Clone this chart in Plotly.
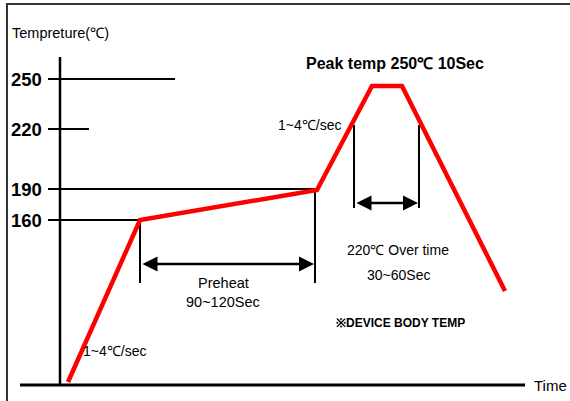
import plotly.graph_objects as go

# ---- data (schematic units: time offset from axis, level above baseline) ----
temp_labels = ["250", "220", "190", "160"]
temp_levels = [306, 256, 196, 165]
guide_ends = [115, 29, 257, 80]          # how far each temperature guide runs along time

profile_time = [8, 80, 257, 312, 342, 445]
profile_level = [3, 165, 195, 299, 299, 94]

preheat_time = [80, 255]
preheat_top = [165, 195]
preheat_bottom = 102
preheat_arrow_level = 121

overtime_time = [294, 359]
overtime_top = 260
overtime_bottom = 177
overtime_arrow_level = 182

axis_time = [-40, 465]
axis_level_top = 328

FONT = "Liberation Sans, Arial, sans-serif"

fig = go.Figure()

# temperature guide lines
for lvl, end in zip(temp_levels, guide_ends):
    fig.add_trace(go.Scatter(x=[-12, end], y=[lvl, lvl], mode="lines",
                             line=dict(color="black", width=2), hoverinfo="skip"))

# axes lines
fig.add_trace(go.Scatter(x=[0, 0], y=[0, axis_level_top], mode="lines",
                         line=dict(color="black", width=2.5), hoverinfo="skip"))
fig.add_trace(go.Scatter(x=axis_time, y=[0, 0], mode="lines",
                         line=dict(color="black", width=3), hoverinfo="skip"))

# preheat markers
for t, top in zip(preheat_time, preheat_top):
    fig.add_trace(go.Scatter(x=[t, t], y=[top, preheat_bottom], mode="lines",
                             line=dict(color="black", width=2), hoverinfo="skip"))
# over time markers
for t in overtime_time:
    fig.add_trace(go.Scatter(x=[t, t], y=[overtime_top, overtime_bottom], mode="lines",
                             line=dict(color="black", width=2), hoverinfo="skip"))

# profile
fig.add_trace(go.Scatter(x=profile_time, y=profile_level, mode="lines",
                         line=dict(color="#FF0000", width=4.5), hoverinfo="skip"))

ann = []
# double arrows
ann.append(dict(x=preheat_time[1], y=preheat_arrow_level, ax=preheat_time[0], ay=preheat_arrow_level,
                xref="x", yref="y", axref="x", ayref="y", text="", showarrow=True,
                arrowhead=2, startarrowhead=2, arrowside="end+start", arrowsize=1.2,
                arrowwidth=2.5, arrowcolor="black", standoff=1, startstandoff=1))
ann.append(dict(x=overtime_time[1], y=overtime_arrow_level, ax=overtime_time[0], ay=overtime_arrow_level,
                xref="x", yref="y", axref="x", ayref="y", text="", showarrow=True,
                arrowhead=2, startarrowhead=2, arrowside="end+start", arrowsize=1.2,
                arrowwidth=2.5, arrowcolor="black", standoff=1, startstandoff=1))

def txt(x, y, s, size, bold=False, xanchor="center"):
    if bold:
        s = "<b>" + s + "</b>"
    return dict(x=x, y=y, xref="x", yref="y", text=s, showarrow=False,
                font=dict(family=FONT, size=size, color="black"), xanchor=xanchor, yanchor="middle")

ann.append(txt(-50, 352, "Tempreture(℃)", 14.5, xanchor="left"))
ann.append(txt(335, 322, "Peak temp 250℃ 10Sec", 16, bold=True))
ann.append(txt(249, 260, "1~4℃/sec", 14))
ann.append(txt(54, 34, "1~4℃/sec", 14))
ann.append(txt(163, 102, "Preheat", 14.5))
ann.append(txt(163, 83, "90~120Sec", 14.5))
ann.append(txt(338, 135, "220℃ Over time", 14))
ann.append(txt(338, 110, "30~60Sec", 14))
ann.append(txt(340, 62, "※DEVICE BODY TEMP", 12, bold=True))
ann.append(txt(472, 0, "Time", 15, xanchor="left"))
for lab, lvl in zip(temp_labels, temp_levels):
    ann.append(txt(-16, lvl, lab, 18.5, bold=True, xanchor="right"))

fig.update_layout(
    width=570, height=401,
    margin=dict(l=0, r=0, t=0, b=0),
    paper_bgcolor="white", plot_bgcolor="white",
    showlegend=False,
    xaxis=dict(range=[-60, 510], visible=False, fixedrange=True),
    yaxis=dict(range=[-16, 385], visible=False, fixedrange=True),
    annotations=ann,
    shapes=[dict(type="rect", xref="paper", yref="paper", x0=7/570, x1=1.02, y0=-0.02, y1=1 - 4/401,
                 line=dict(color="#333333", width=2))],
)

fig.write_html("out.html", config={"displayModeBar": False},
               post_script="document.body.style.margin='0';document.body.style.overflow='hidden';")
